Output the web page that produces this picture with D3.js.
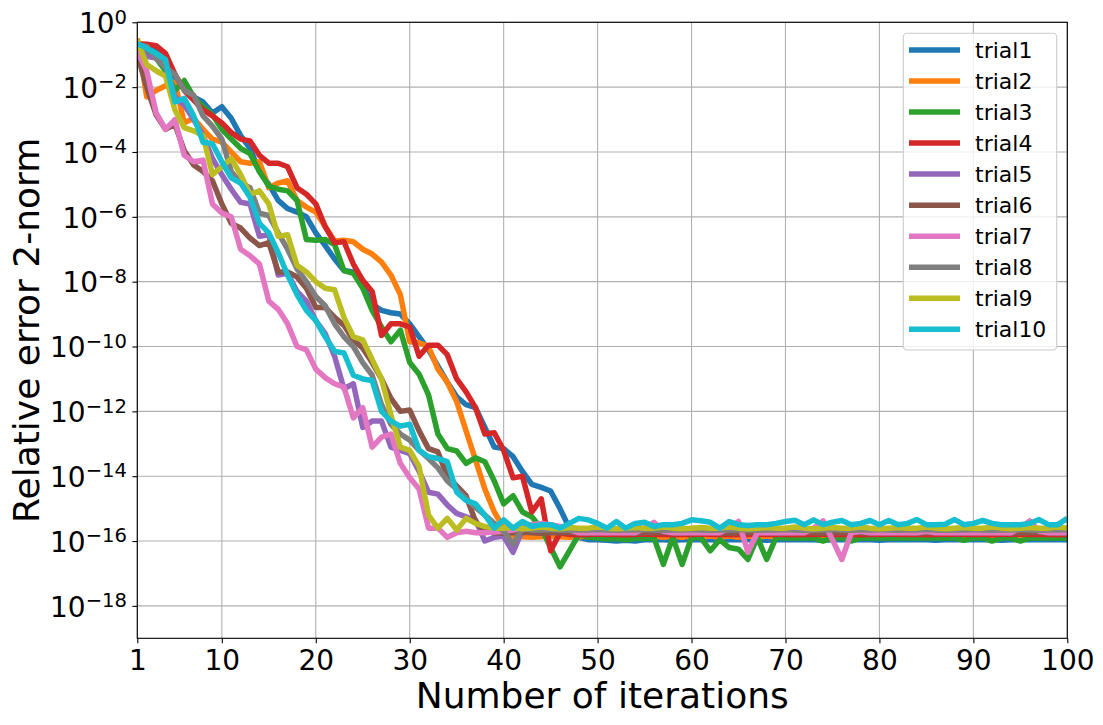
<!DOCTYPE html>
<html><head><meta charset="utf-8">
<script src="https://cdn.jsdelivr.net/npm/d3@7"></script>
<style>body{margin:0;background:#fff} svg{display:block} text{font-family:"DejaVu Sans",sans-serif;fill:#000}</style>
</head><body>
<svg id="chart" width="1103" height="725"></svg>
<script>
// ---------------- data ----------------
const iterations = d3.range(1, 101);
const seriesNames = ["trial1","trial2","trial3","trial4","trial5","trial6","trial7","trial8","trial9","trial10"];
const xTickValues = [1, 10, 20, 30, 40, 50, 60, 70, 80, 90, 100];
const yTickExponents = [0, -2, -4, -6, -8, -10, -12, -14, -16, -18];

const trial1 = [
1.8e-1,1.4e-1,1.8e-1,5.0e-2,2.0e-2,1.0e-2,5.0e-3,3.5e-3,1.6e-3,2.5e-3,
1.1e-3,3.2e-4,1.3e-4,2.5e-5,1.0e-5,3.2e-6,1.8e-6,1.4e-6,1.0e-6,3.2e-7,
1.3e-7,5.0e-8,2.2e-8,2.0e-8,7.9e-9,2.0e-9,1.3e-9,1.1e-9,1.0e-9,5.0e-10,
2.0e-10,7.9e-11,2.5e-11,7.9e-12,2.8e-12,1.6e-12,1.3e-12,3.2e-13,7.9e-14,7.1e-14,
4.0e-14,1.4e-14,5.6e-15,4.5e-15,3.5e-15,1.0e-15,2.5e-16,1.3e-16,1.1e-16,1.1e-16,
1.05e-16,1.0e-16,1.05e-16,1.0e-16,1.1e-16,1.1e-16,1.1e-16,1.05e-16,1.1e-16,1.1e-16,
1.1e-16,1.1e-16,1.05e-16,1.1e-16,1.1e-16,1.1e-16,1.1e-16,1.05e-16,1.1e-16,1.1e-16,
1.1e-16,1.1e-16,1.1e-16,1.05e-16,1.1e-16,1.1e-16,1.1e-16,1.1e-16,1.1e-16,1.05e-16,
1.1e-16,1.1e-16,1.1e-16,1.1e-16,1.1e-16,1.05e-16,1.1e-16,1.1e-16,1.1e-16,1.1e-16,
1.1e-16,1.1e-16,1.05e-16,1.1e-16,1.1e-16,1.1e-16,1.1e-16,1.1e-16,1.1e-16,1.1e-16];

const trial2 = [
3.2e-1,5.0e-3,7.9e-3,1.1e-2,1.4e-2,7.9e-4,1.1e-3,5.0e-4,2.5e-4,2.0e-4,
1.0e-4,5.0e-5,4.5e-5,5.0e-5,7.9e-6,1.1e-5,1.3e-5,3.2e-6,2.0e-6,1.4e-6,
5.0e-7,1.8e-7,1.9e-7,1.7e-7,1.0e-7,7.1e-8,4.0e-8,1.6e-8,4.0e-9,1.4e-10,
1.3e-10,1.0e-10,2.0e-11,7.9e-12,2.0e-12,2.5e-13,3.2e-14,4.0e-15,7.9e-16,2.5e-16,
1.4e-16,1.35e-16,1.3e-16,1.35e-16,1.4e-16,1.35e-16,1.3e-16,1.35e-16,1.4e-16,1.35e-16,
1.3e-16,1.42e-16,1.3e-16,1.42e-16,1.3e-16,1.42e-16,1.3e-16,1.42e-16,1.3e-16,1.42e-16,
1.3e-16,1.42e-16,1.3e-16,1.42e-16,1.3e-16,1.42e-16,1.3e-16,1.42e-16,1.3e-16,1.42e-16,
1.3e-16,1.42e-16,1.3e-16,1.42e-16,1.3e-16,1.42e-16,1.3e-16,1.42e-16,1.3e-16,1.42e-16,
1.3e-16,1.42e-16,1.3e-16,1.42e-16,1.3e-16,1.42e-16,1.3e-16,1.42e-16,1.3e-16,1.42e-16,
1.3e-16,1.42e-16,1.3e-16,1.42e-16,1.3e-16,1.42e-16,1.3e-16,1.42e-16,1.3e-16,1.42e-16];

const trial3 = [
2.5e-1,1.3e-1,7.9e-2,3.2e-2,7.9e-3,1.6e-2,5.0e-3,2.5e-3,1.4e-3,5.0e-4,
2.5e-4,1.3e-4,8.9e-5,2.5e-5,8.9e-6,7.1e-6,6.3e-6,3.2e-6,2.0e-7,1.9e-7,
2.0e-7,1.4e-7,2.2e-8,1.8e-8,6.3e-9,1.3e-9,4.0e-10,1.4e-10,3.2e-10,3.2e-11,
1.4e-11,3.2e-12,2.0e-13,7.1e-14,6.0e-14,2.5e-14,3.7e-14,2.8e-14,7.1e-15,1.4e-15,
2.5e-15,7.9e-16,5.6e-16,2.5e-16,6.3e-17,1.6e-17,5.0e-17,1.6e-16,1.3e-16,1.25e-16,
1.15e-16,1.2e-16,1.1e-16,1.2e-16,1.2e-16,1.25e-16,1.9e-17,1.3e-16,1.9e-17,1.3e-16,
1.25e-16,5.0e-17,1.1e-16,6.3e-17,5.6e-17,2.7e-17,1.3e-16,2.7e-17,1.3e-16,1.25e-16,
1.25e-16,1.25e-16,1.25e-16,1.0e-16,1.25e-16,1.25e-16,1.0e-16,1.25e-16,1.25e-16,1.25e-16,
1.25e-16,1.25e-16,1.25e-16,1.25e-16,1.25e-16,1.25e-16,1.25e-16,1.25e-16,1.05e-16,1.25e-16,
1.25e-16,1.0e-16,1.25e-16,1.25e-16,1.0e-16,1.25e-16,1.25e-16,1.25e-16,1.25e-16,1.25e-16];

const trial4 = [
2.2e-1,2.1e-1,1.9e-1,1.1e-1,2.5e-2,7.9e-3,4.0e-3,2.0e-3,1.3e-3,7.9e-4,
4.0e-4,2.5e-4,2.2e-4,7.9e-5,4.5e-5,4.5e-5,3.5e-5,7.9e-6,5.0e-6,2.5e-6,
5.0e-7,1.6e-7,1.7e-7,3.5e-8,1.1e-8,5.0e-9,2.2e-10,5.0e-10,5.0e-10,4.0e-10,
5.0e-11,1.1e-10,1.1e-10,5.6e-11,1.0e-11,4.0e-12,1.3e-12,2.0e-13,2.2e-13,6.3e-14,
8.9e-15,1.0e-14,7.9e-16,2.0e-15,5.0e-17,1.8e-16,1.6e-16,1.55e-16,1.6e-16,1.65e-16,
1.6e-16,1.6e-16,1.55e-16,1.6e-16,1.65e-16,1.6e-16,1.6e-16,1.55e-16,1.6e-16,1.6e-16,
1.65e-16,1.6e-16,1.6e-16,1.55e-16,1.6e-16,1.6e-16,1.65e-16,1.6e-16,1.6e-16,1.6e-16,
1.55e-16,1.6e-16,1.6e-16,1.65e-16,1.6e-16,1.6e-16,1.6e-16,1.55e-16,1.6e-16,1.6e-16,
1.65e-16,1.6e-16,1.6e-16,1.6e-16,1.55e-16,1.6e-16,1.6e-16,1.65e-16,1.6e-16,1.6e-16,
1.6e-16,1.55e-16,1.6e-16,1.6e-16,1.65e-16,1.6e-16,1.6e-16,1.6e-16,1.55e-16,1.6e-16];

const trial5 = [
2.0e-1,8.9e-2,7.9e-2,4.5e-2,5.0e-3,2.8e-3,1.0e-3,3.2e-4,6.3e-5,2.0e-5,
7.1e-6,2.8e-6,2.5e-6,2.5e-7,2.8e-7,1.6e-8,1.8e-8,5.0e-9,2.5e-9,6.3e-10,
2.5e-10,5.0e-11,5.0e-12,7.1e-12,3.2e-13,5.0e-13,5.0e-13,7.9e-14,6.3e-14,5.0e-14,
1.4e-14,3.2e-15,2.8e-15,1.3e-15,7.1e-16,5.6e-16,4.5e-16,1.0e-16,1.3e-16,1.4e-16,
4.5e-17,2.2e-16,1.9e-16,1.9e-16,1.85e-16,1.9e-16,1.95e-16,1.9e-16,1.9e-16,1.85e-16,
1.9e-16,1.9e-16,1.95e-16,1.9e-16,1.9e-16,1.85e-16,1.9e-16,1.9e-16,1.9e-16,1.95e-16,
1.9e-16,1.9e-16,1.85e-16,1.9e-16,1.9e-16,1.9e-16,1.95e-16,1.9e-16,1.9e-16,1.85e-16,
1.9e-16,1.9e-16,1.9e-16,1.95e-16,1.9e-16,1.9e-16,1.85e-16,1.9e-16,1.9e-16,1.9e-16,
1.95e-16,1.9e-16,1.9e-16,1.85e-16,1.9e-16,1.9e-16,1.9e-16,1.95e-16,1.9e-16,1.9e-16,
1.85e-16,1.9e-16,1.9e-16,1.9e-16,1.95e-16,1.9e-16,1.9e-16,1.85e-16,1.9e-16,1.9e-16];

const trial6 = [
1.0e-1,1.0e-2,1.4e-3,5.0e-4,7.1e-4,1.1e-4,4.0e-5,2.5e-5,1.3e-5,2.5e-6,
6.3e-7,4.5e-7,2.2e-7,1.3e-7,1.6e-7,2.0e-8,2.0e-8,1.4e-8,6.3e-9,1.6e-9,
1.6e-9,7.9e-10,4.5e-10,1.6e-10,8.9e-11,3.2e-11,1.0e-11,2.5e-12,1.0e-12,1.1e-12,
2.5e-13,7.1e-14,5.6e-14,1.0e-14,5.0e-15,2.5e-15,4.0e-16,2.0e-16,1.8e-16,1.75e-16,
1.8e-16,1.85e-16,1.8e-16,1.75e-16,1.8e-16,1.8e-16,1.85e-16,1.8e-16,1.75e-16,1.8e-16,
1.8e-16,1.85e-16,1.8e-16,1.75e-16,1.8e-16,1.8e-16,1.85e-16,1.8e-16,1.75e-16,1.8e-16,
1.8e-16,1.85e-16,1.8e-16,1.75e-16,1.8e-16,1.8e-16,1.85e-16,1.8e-16,1.75e-16,1.8e-16,
1.8e-16,1.85e-16,1.8e-16,1.75e-16,1.8e-16,1.8e-16,1.85e-16,1.8e-16,1.75e-16,1.8e-16,
1.8e-16,1.85e-16,1.8e-16,1.75e-16,1.8e-16,1.8e-16,1.85e-16,1.8e-16,1.75e-16,1.8e-16,
1.8e-16,1.85e-16,1.8e-16,1.75e-16,1.8e-16,1.8e-16,1.85e-16,1.8e-16,1.75e-16,1.8e-16];

const trial7 = [
1.3e-1,3.2e-2,1.6e-3,5.0e-4,1.0e-3,7.9e-5,5.0e-5,5.6e-5,2.5e-6,1.3e-6,
1.0e-6,1.0e-7,6.3e-8,3.5e-8,2.5e-9,1.4e-9,5.0e-10,1.0e-10,7.9e-11,2.0e-11,
1.1e-11,7.1e-12,5.6e-12,6.3e-13,1.3e-12,7.9e-14,1.6e-13,2.0e-13,2.5e-14,8.9e-15,
4.0e-15,2.5e-16,2.5e-16,1.3e-16,1.8e-16,2.0e-16,1.8e-16,1.8e-16,1.9e-16,2.0e-16,
2.2e-16,2.5e-16,3.2e-16,3.5e-16,3.2e-16,2.8e-16,2.2e-16,1.8e-16,1.8e-16,1.8e-16,
1.8e-16,1.8e-16,1.8e-16,1.8e-16,2.5e-16,3.8e-16,2.0e-16,1.8e-16,1.8e-16,1.8e-16,
1.8e-16,1.8e-16,1.8e-16,2.5e-16,4.0e-16,4.5e-17,1.8e-16,1.8e-16,1.8e-16,1.8e-16,
1.8e-16,1.8e-16,2.5e-16,4.2e-16,1.1e-16,2.7e-17,1.8e-16,2.0e-16,1.8e-16,1.8e-16,
1.8e-16,1.8e-16,1.8e-16,1.8e-16,2.0e-16,1.8e-16,1.8e-16,1.8e-16,1.8e-16,1.8e-16,
1.8e-16,1.8e-16,1.8e-16,1.8e-16,2.5e-16,4.2e-16,2.0e-16,1.8e-16,1.8e-16,1.8e-16];

const trial8 = [
2.0e-1,1.8e-1,7.9e-2,4.0e-2,2.5e-2,7.9e-3,5.6e-3,1.3e-3,6.3e-4,2.5e-4,
2.5e-5,1.1e-5,7.9e-6,1.3e-6,1.1e-6,3.2e-7,1.0e-7,2.5e-8,1.0e-8,3.5e-9,
1.8e-9,5.0e-10,2.0e-10,1.0e-10,3.2e-11,1.3e-11,1.6e-12,4.0e-13,2.0e-13,1.3e-13,
6.3e-14,3.5e-14,1.8e-14,7.1e-15,4.0e-15,2.0e-15,1.1e-15,6.3e-16,3.5e-16,2.0e-16,
7.9e-17,2.5e-16,2.2e-16,2.2e-16,2.25e-16,2.2e-16,2.15e-16,2.2e-16,2.2e-16,2.25e-16,
2.2e-16,2.15e-16,2.2e-16,2.2e-16,2.25e-16,2.2e-16,2.15e-16,2.2e-16,2.2e-16,2.25e-16,
2.2e-16,2.15e-16,2.2e-16,2.2e-16,2.25e-16,2.2e-16,2.15e-16,2.2e-16,2.2e-16,2.25e-16,
2.2e-16,2.15e-16,2.2e-16,2.2e-16,2.25e-16,2.2e-16,2.15e-16,2.2e-16,2.2e-16,2.25e-16,
2.2e-16,2.15e-16,2.2e-16,2.2e-16,2.25e-16,2.2e-16,2.15e-16,2.2e-16,2.2e-16,2.25e-16,
2.2e-16,2.15e-16,2.2e-16,2.2e-16,2.25e-16,2.2e-16,2.15e-16,2.2e-16,2.2e-16,2.25e-16];

const trial9 = [
2.8e-1,5.0e-2,3.2e-2,2.2e-2,2.0e-3,5.6e-4,4.5e-4,3.2e-4,2.0e-5,3.5e-5,
6.3e-5,2.0e-5,5.0e-6,6.3e-6,2.5e-6,2.5e-7,2.8e-7,3.2e-8,2.0e-8,1.0e-8,
6.3e-9,5.6e-9,7.9e-10,2.0e-10,1.6e-10,4.0e-11,1.0e-11,7.9e-13,7.9e-14,6.3e-14,
2.0e-14,6.3e-16,2.5e-16,5.0e-16,2.2e-16,5.0e-16,3.5e-16,2.8e-16,2.5e-16,2.5e-16,
2.6e-16,2.4e-16,2.5e-16,2.7e-16,2.5e-16,2.4e-16,2.6e-16,2.5e-16,2.5e-16,2.7e-16,
2.5e-16,2.4e-16,2.5e-16,2.6e-16,2.5e-16,2.5e-16,2.7e-16,2.5e-16,2.4e-16,2.5e-16,
2.6e-16,2.5e-16,2.5e-16,2.7e-16,2.5e-16,2.4e-16,2.5e-16,2.6e-16,2.5e-16,2.5e-16,
2.7e-16,2.5e-16,2.4e-16,2.5e-16,2.6e-16,2.5e-16,2.5e-16,2.7e-16,2.5e-16,2.4e-16,
2.5e-16,2.6e-16,2.5e-16,2.5e-16,2.7e-16,2.5e-16,2.4e-16,2.5e-16,2.6e-16,2.5e-16,
2.5e-16,2.7e-16,2.5e-16,2.4e-16,2.5e-16,2.6e-16,2.5e-16,2.5e-16,2.7e-16,2.5e-16];

const trial10 = [
2.2e-1,1.6e-1,1.1e-1,7.1e-2,3.5e-3,4.5e-3,1.3e-3,2.0e-4,1.8e-4,5.0e-5,
1.6e-5,1.1e-5,4.0e-6,6.3e-7,3.2e-7,7.9e-8,1.6e-8,4.0e-9,1.3e-9,6.3e-10,
2.0e-10,7.1e-11,6.3e-11,1.3e-11,1.0e-11,8.9e-12,1.0e-12,5.0e-13,3.5e-13,4.0e-13,
6.3e-14,4.0e-14,3.5e-14,2.8e-14,3.2e-15,1.8e-15,1.4e-15,6.3e-16,2.5e-16,4.5e-16,
2.5e-16,4.0e-16,2.8e-16,3.2e-16,3.2e-16,2.5e-16,3.5e-16,5.0e-16,4.5e-16,3.5e-16,
2.5e-16,4.0e-16,2.5e-16,3.5e-16,3.8e-16,2.8e-16,3.2e-16,3.2e-16,3.5e-16,4.5e-16,
4.2e-16,3.8e-16,2.5e-16,4.0e-16,3.2e-16,3.0e-16,3.2e-16,3.2e-16,3.5e-16,4.0e-16,
4.4e-16,3.2e-16,4.5e-16,3.2e-16,3.8e-16,4.3e-16,3.2e-16,3.5e-16,4.3e-16,3.2e-16,
4.3e-16,3.2e-16,3.5e-16,4.6e-16,3.2e-16,3.2e-16,3.3e-16,4.6e-16,3.2e-16,3.5e-16,
4.3e-16,3.5e-16,3.2e-16,3.2e-16,3.2e-16,3.5e-16,4.6e-16,3.2e-16,3.2e-16,5.0e-16];

const seriesValues = [trial1, trial2, trial3, trial4, trial5, trial6, trial7, trial8, trial9, trial10];
const seriesColors = ["#1f77b4","#ff7f0e","#2ca02c","#d62728","#9467bd","#8c564b","#e377c2","#7f7f7f","#bcbd22","#17becf"];

// ---------------- drawing ----------------
const svg = d3.select("#chart");
const plot = {left: 137.3, top: 22.3, right: 1067.3, bottom: 638.3};

const x = d3.scaleLinear().domain([1, 100]).range([plot.left, plot.right]);
const y = d3.scaleLog().domain([1e-19, 1]).range([plot.bottom, plot.top]);
const yTickValues = yTickExponents.map(e => Math.pow(10, e));

svg.append("rect").attr("width", 1103).attr("height", 725).attr("fill", "#fff");

// grid
const grid = svg.append("g").attr("stroke", "#b0b0b0").attr("stroke-width", 1.1);
grid.selectAll("line.gx").data(xTickValues).join("line")
  .attr("x1", d => x(d)).attr("x2", d => x(d)).attr("y1", plot.top).attr("y2", plot.bottom);
grid.selectAll("line.gy").data(yTickValues).join("line")
  .attr("y1", d => y(d)).attr("y2", d => y(d)).attr("x1", plot.left).attr("x2", plot.right);

// clip
svg.append("defs").append("clipPath").attr("id", "clip")
  .append("rect").attr("x", plot.left).attr("y", plot.top)
  .attr("width", plot.right - plot.left).attr("height", plot.bottom - plot.top);

const line = d3.line().x((d, i) => x(iterations[i])).y(d => y(d));
const lines = svg.append("g").attr("clip-path", "url(#clip)");
seriesValues.forEach((vals, k) => {
  lines.append("path").datum(vals)
    .attr("d", line).attr("fill", "none")
    .attr("stroke", seriesColors[k]).attr("stroke-width", 5.5)
    .attr("stroke-linejoin", "round").attr("stroke-linecap", "butt");
});

// axes
const xAxis = d3.axisBottom(x).tickValues(xTickValues).tickSize(4.9).tickSizeOuter(0).tickFormat(d3.format("d"));
const gx = svg.append("g").attr("transform", `translate(0,${plot.bottom})`).call(xAxis);
gx.select(".domain").remove();
gx.selectAll(".tick line").attr("stroke", "#000").attr("stroke-width", 1.1);
gx.selectAll(".tick text").attr("y", 31.7).attr("dy", null)
  .attr("font-size", 28).attr("font-family", "DejaVu Sans").attr("fill", "#000");

const yAxis = d3.axisLeft(y).tickValues(yTickValues).tickSize(4.9).tickSizeOuter(0).tickFormat("");
const gy = svg.append("g").attr("transform", `translate(${plot.left},0)`).call(yAxis);
gy.select(".domain").remove();
gy.selectAll(".tick line").attr("stroke", "#000").attr("stroke-width", 1.1);
gy.selectAll(".tick text").remove();
const yLab = svg.append("g");
yTickExponents.forEach(e => {
  const t = yLab.append("text").attr("x", 127).attr("y", y(Math.pow(10, e)) + 10.8)
    .attr("text-anchor", "end").attr("font-size", 28);
  t.append("tspan").text("10");
  t.append("tspan").attr("dy", -9.5).attr("font-size", 19.6).text(e === 0 ? "0" : "\u2212" + Math.abs(e));
});

// frame
svg.append("rect").attr("x", plot.left).attr("y", plot.top)
  .attr("width", plot.right - plot.left).attr("height", plot.bottom - plot.top)
  .attr("fill", "none").attr("stroke", "#000").attr("stroke-width", 1.1);

// axis titles
svg.append("text").attr("x", (plot.left + plot.right) / 2).attr("y", 708)
  .attr("text-anchor", "middle").attr("font-size", 36).text("Number of iterations");
svg.append("text").attr("transform", `translate(38.5,${(plot.top + plot.bottom) / 2}) rotate(-90)`)
  .attr("text-anchor", "middle").attr("font-size", 36).text("Relative error 2-norm");

// legend
const lg = svg.append("g");
lg.append("rect").attr("x", 903.3).attr("y", 33.3).attr("width", 153.4).attr("height", 316.7)
  .attr("rx", 4).attr("fill", "#fff").attr("fill-opacity", 0.8)
  .attr("stroke", "#cccccc").attr("stroke-width", 1.1);
seriesNames.forEach((name, k) => {
  const ly = 50 + k * 31.03;
  lg.append("line").attr("x1", 909).attr("x2", 960).attr("y1", ly).attr("y2", ly)
    .attr("stroke", seriesColors[k]).attr("stroke-width", 5.5);
  lg.append("text").attr("x", 975).attr("y", ly + 8).attr("font-size", 22).text(name);
});
</script>
</body></html>
